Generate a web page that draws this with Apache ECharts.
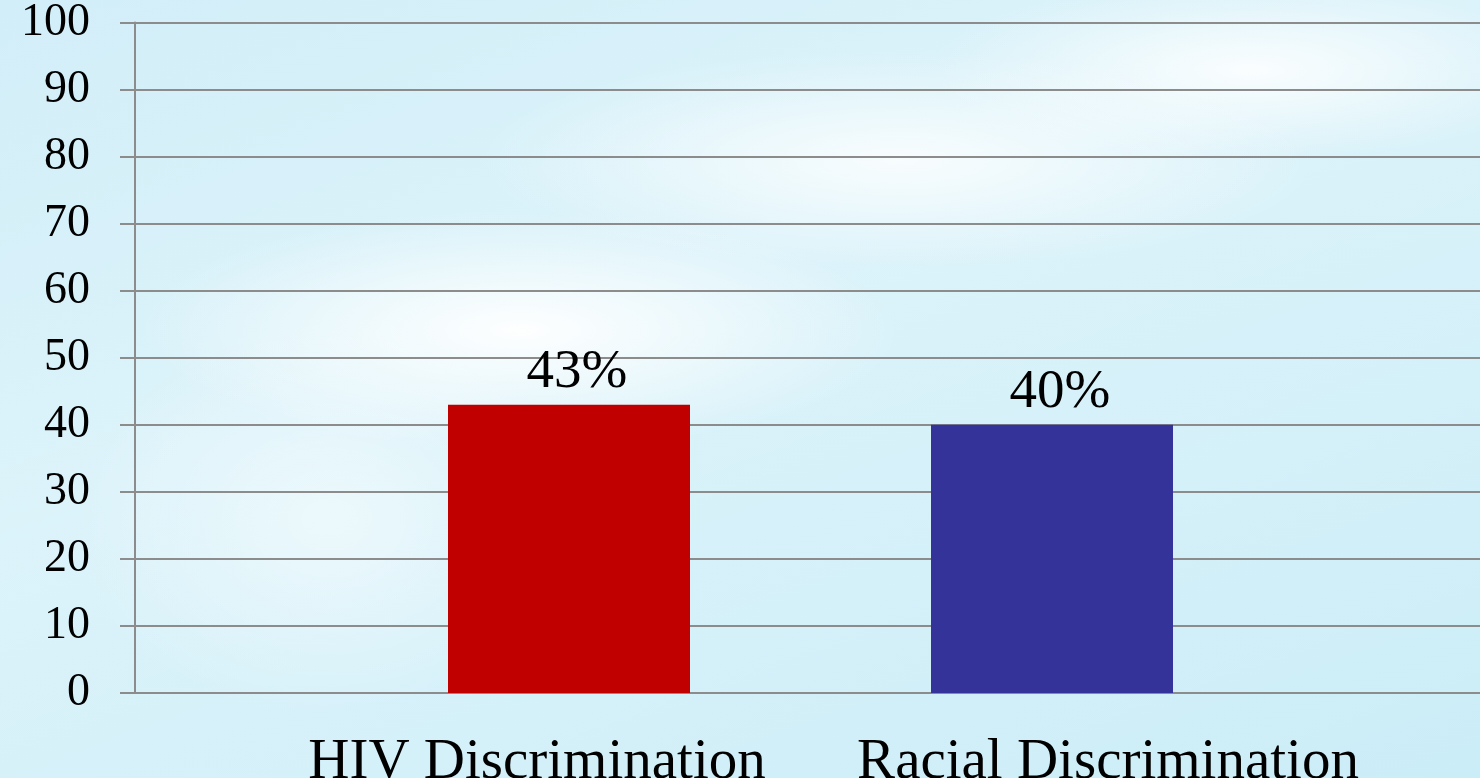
<!DOCTYPE html>
<html>
<head>
    <title>Discrimination</title>
    <meta http-equiv="Content-Type" content="text/html; charset=utf-8" />
    <script src="https://cdn.jsdelivr.net/npm/echarts@6/dist/echarts.min.js"></script>
    <style>
        html, body { margin: 0; padding: 0; }
        #div_echart {
            width: 1480px; height: 778px;
            background:
                radial-gradient(ellipse 380px 120px at 520px 330px, rgba(255,255,255,0.95), rgba(255,255,255,0)),
                radial-gradient(ellipse 420px 110px at 900px 160px, rgba(255,255,255,0.8), rgba(255,255,255,0)),
                radial-gradient(ellipse 320px 90px at 1250px 70px, rgba(255,255,255,0.85), rgba(255,255,255,0)),
                radial-gradient(ellipse 260px 200px at 330px 520px, rgba(255,255,255,0.5), rgba(255,255,255,0)),
                linear-gradient(160deg, #d2eef8 0%, #dcf3fa 40%, #d4f0f9 70%, #cbedf7 100%);
        }
    </style>
    <script>
        var categories = ['HIV Discrimination', 'Racial Discrimination'];
        var percentValues = [43, 40];
        var barColors = ['#C00000', '#333399'];
        var yTicks = [0, 10, 20, 30, 40, 50, 60, 70, 80, 90, 100];

        window.onload = function () {
            EchartInit();
        };

        function EchartInit() {
            var dom = document.getElementById("div_echart");
            var mychart = echarts.init(dom);
            var font = '"Liberation Serif", "DejaVu Serif", serif';

            var option = {
                animation: false,
                grid: [
                    { left: 135, right: 0, top: 22.5, bottom: 85, outerBoundsMode: 'none' },
                    { left: 327.5, right: 186.5, top: 22.5, bottom: 85, outerBoundsMode: 'none' }
                ],
                xAxis: [
                    {
                        gridIndex: 0, type: 'value', min: 0, max: 1,
                        show: false
                    },
                    {
                        gridIndex: 1, type: 'category', data: categories,
                        axisLine: { show: false },
                        axisTick: { show: false },
                        axisLabel: {
                            interval: 0,
                            hideOverlap: false,
                            margin: 42,
                            color: '#000',
                            fontFamily: font,
                            fontSize: 57,
                            formatter: function (v, i) {
                                return '{c' + i + '|' + v + '}';
                            },
                            rich: {
                                c0: { fontFamily: font, fontSize: 57, color: '#000', padding: [0, 64, 0, 0] },
                                c1: { fontFamily: font, fontSize: 57, color: '#000', padding: [0, 0, 0, 112] }
                            }
                        }
                    }
                ],
                yAxis: [
                    {
                        gridIndex: 0, type: 'value', min: 0, max: 100, interval: 10,
                        axisLine: { show: true, lineStyle: { color: '#8c8c8c', width: 2 } },
                        axisTick: { show: true, length: 15, lineStyle: { color: '#8c8c8c', width: 2 } },
                        splitLine: { show: true, lineStyle: { color: '#8c8c8c', width: 2 } },
                        axisLabel: {
                            margin: 45,
                            color: '#000',
                            fontFamily: font,
                            fontSize: 46,
                            customValues: yTicks
                        }
                    },
                    {
                        gridIndex: 1, type: 'value', min: 0, max: 100, interval: 10,
                        show: false
                    }
                ],
                series: [
                    {
                        type: 'bar',
                        xAxisIndex: 1,
                        yAxisIndex: 1,
                        barWidth: 242,
                        data: percentValues.map(function (v, i) {
                            return { value: v, itemStyle: { color: barColors[i] } };
                        }),
                        label: {
                            show: true,
                            position: 'top',
                            distance: 5,
                            offset: [8, 0],
                            color: '#000',
                            fontFamily: font,
                            fontSize: 55,
                            formatter: '{c}%'
                        }
                    }
                ]
            };

            mychart.setOption(option, true);
        }
    </script>
</head>
<body>
    <div id="div_echart"></div>
</body>
</html>
